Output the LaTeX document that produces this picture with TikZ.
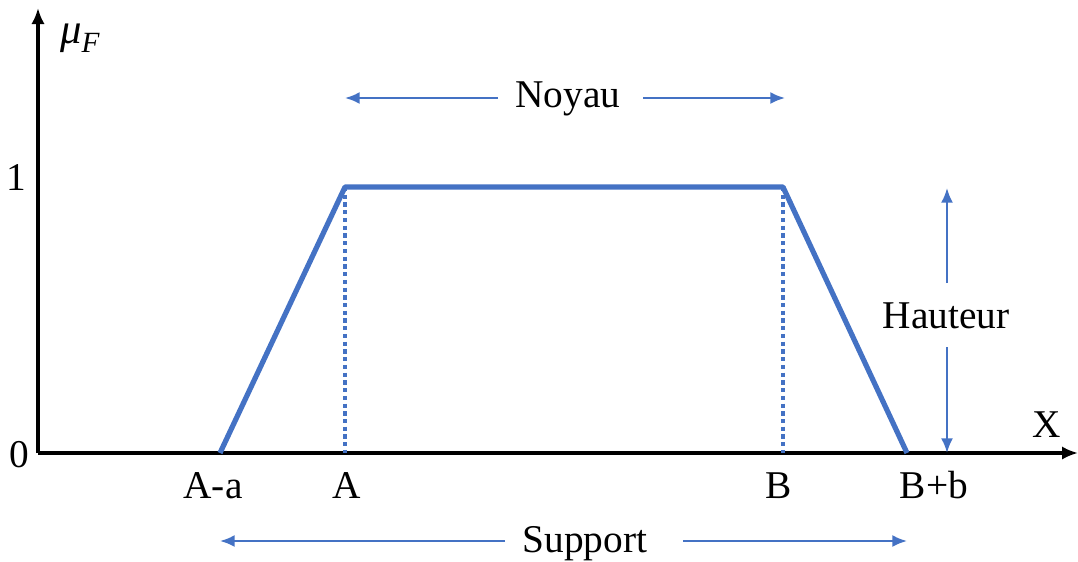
\documentclass[tikz,border=0pt]{standalone}
\usepackage{fontspec}
\setmainfont{Liberation Serif}
\usetikzlibrary{arrows.meta,calc}
\definecolor{oblue}{HTML}{4472C4}
\tikzset{
  lbl/.style={font=\fontsize{29.5}{33}\selectfont, inner sep=0pt, anchor=base},
  axis/.style={black, line width=2.3pt, -{Latex[length=12pt,width=10pt]}},
  trap/.style={oblue, line width=3.9pt, line join=round},
  dots/.style={oblue, line width=2.4pt, dash pattern=on 3.2pt off 2.6pt},
  dimarrow/.style={oblue, line width=1.7pt, -{Latex[length=11pt,width=9pt]}}
}
\begin{document}
\begin{tikzpicture}[x=0.75pt,y=-0.75pt]
\useasboundingbox (0,0) rectangle (1078,561);
% key points
\coordinate (O) at (38,453);
\coordinate (Ytop) at (38,8);
\coordinate (Xend) at (1078,453);
\coordinate (P1) at (220,453);
\coordinate (P2) at (345,187);
\coordinate (P3) at (783,187);
\coordinate (P4) at (907,453);
\coordinate (A0) at (345,453);
\coordinate (B0) at (783,453);
% axes
\draw[axis] (O) -- (Ytop);
\draw[axis] (O) -- (Xend);
% dotted verticals
\draw[dots] (P2) -- (A0);
\draw[dots] (P3) -- (B0);
% trapezoid
\draw[trap] (P1) -- (P2) -- (P3) -- (P4);
% axis labels
\node[lbl, font=\fontsize{32}{36}\selectfont\itshape] (mu) at (80,43) {μ\raisebox{-0.22em}{\fontsize{22}{24}\selectfont F}};
\node[lbl] (X) at (1047,437) {X};
\node[lbl] (one) at (16,190) {1};
\node[lbl] (zero) at (19,467) {0};
\node[lbl] (lAa) at (213,498) {A-a};
\node[lbl] (lA) at (347,498) {A};
\node[lbl] (lB) at (779,498) {B};
\node[lbl] (lBb) at (934,498) {B+b};
% Noyau
\node[lbl] (noyau) at (568,107) {Noyau};
\coordinate (nL) at (345,98);
\coordinate (nR) at (785,98);
\coordinate (nLs) at (498,98);
\coordinate (nRs) at (643,98);
\draw[dimarrow] (nLs) -- (nL);
\draw[dimarrow] (nRs) -- (nR);
% Support
\node[lbl] (support) at (585,552) {Support};
\coordinate (sL) at (220,541);
\coordinate (sR) at (907,541);
\coordinate (sLs) at (505,541);
\coordinate (sRs) at (683,541);
\draw[dimarrow] (sLs) -- (sL);
\draw[dimarrow] (sRs) -- (sR);
% Hauteur
\node[lbl] (hauteur) at (946,328) {Hauteur};
\coordinate (hT) at (947,188);
\coordinate (hB) at (947,453);
\coordinate (hTs) at (947,283);
\coordinate (hBs) at (947,347);
\draw[dimarrow] (hTs) -- (hT);
\draw[dimarrow] (hBs) -- (hB);
\end{tikzpicture}
\end{document}
